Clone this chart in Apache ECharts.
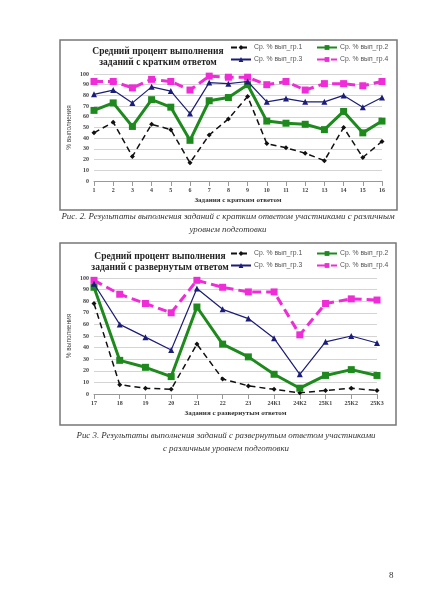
<!DOCTYPE html>
<html><head><meta charset="utf-8">
<script src="https://cdn.jsdelivr.net/npm/echarts@6/dist/echarts.min.js"></script>
<style>html,body{margin:0;padding:0;background:#fff}#c{width:424px;height:600px}</style>
</head><body><div id="c"></div>
<script>
const cats1 = ['1','2','3','4','5','6','7','8','9','10','11','12','13','14','15','16'];
const c1g1 = [45,55,23,53,48,17,43,58,79,35,31,26,19,50,22,37];
const c1g2 = [66,73,51,76,69,38,75,78,90,56,54,53,48,65,45,56];
const c1g3 = [81,85,73,88,84,63,92,91,93,74,77,74,74,80,69,78];
const c1g4 = [93,93,87,95,93,85,98,97,97,90,93,85,91,91,89,93];

const cats2 = ['17','18','19','20','21','22','23','24К1','24К2','25К1','25К2','25К3'];
const c2g1 = [78,8,5,4,43,13,7,4,1,3,5,3];
const c2g2 = [92,29,23,15,75,43,32,17,5,16,21,16];
const c2g3 = [95,60,49,38,91,73,65,48,17,45,50,44];
const c2g4 = [98,86,78,70,98,92,88,88,51,78,82,81];

const names = ['Ср. % вып_гр.1','Ср. % вып_гр.2','Ср. % вып_гр.3','Ср. % вып_гр.4'];

const styles = [
  {color:'#111', width:1.5, type:[6,4], symbol:'diamond', size:5},
  {color:'#1e8a1e', width:3, type:'solid', symbol:'rect', size:7},
  {color:'#1c1c7a', width:1.2, type:'solid', symbol:'triangle', size:6},
  {color:'#f02cd8', width:3, type:[9,5], symbol:'rect', size:7}
];
function mk(i, data, ax){
  const s = styles[i];
  return {name:names[i], type:'line', xAxisIndex:ax, yAxisIndex:ax, data:data,
    symbol:s.symbol, symbolSize:s.size, showSymbol:true,
    itemStyle:{color:s.color, borderWidth:0},
    lineStyle:{color:s.color, width:s.width, type:s.type}, animation:false, z: i===2?4:3};
}
const serif = 'Liberation Serif';
function xAx(g, cats, name){
  return {type:'category', gridIndex:g, data:cats, boundaryGap:false,
    axisLine:{lineStyle:{color:'#999'}}, axisTick:{show:true, lineStyle:{color:'#999'}},
    axisLabel:{fontSize:6, color:'#444', fontFamily:serif, fontWeight:'bold', margin:6},
    name:name, nameLocation:'middle', nameGap:16, nameMoveOverlap:false,
    nameTextStyle:{fontSize:7, fontFamily:serif, fontWeight:'bold', color:'#333'}};
}
function yAx(g){
  return {type:'value', gridIndex:g, min:0, max:100, interval:10,
    axisLine:{show:false}, axisTick:{show:false},
    splitLine:{lineStyle:{color:'#d4d4d4', width:1}},
    axisLabel:{fontSize:6, color:'#444', fontFamily:serif, fontWeight:'bold', margin:5},
    name:'% выполнения', nameLocation:'middle', nameRotate:90, nameGap:21, nameMoveOverlap:false,
    nameTextStyle:{fontSize:6.5, color:'#444', fontFamily:'Liberation Sans'}};
}
function leg(i, left, top){
  return {data:[names[i]], left:left, top:top, itemWidth:20, itemHeight:6, padding:0,
    textStyle:{fontSize:6.8, color:'#555', fontFamily:'Liberation Sans', padding:[0,0,0,-2]}};
}
const chart = echarts.init(document.getElementById('c'), null, {renderer:'canvas'});
chart.setOption({
  animation:false,
  backgroundColor:'#fff',
  title:[
    {text:'Средний процент выполнения\nзаданий с кратким ответом', left:153, top:41, textAlign:'center',
     textStyle:{fontSize:9.5, fontFamily:serif, fontWeight:'bold', color:'#222', lineHeight:11}},
    {text:'Средний процент выполнения\nзаданий с развернутым ответом', left:155, top:246, textAlign:'center',
     textStyle:{fontSize:9.5, fontFamily:serif, fontWeight:'bold', color:'#222', lineHeight:11}}
  ],
  legend:[
    leg(0,230,44), leg(1,316,44), leg(2,230,56), leg(3,316,56),
    leg(0,230,250), leg(1,316,250), leg(2,230,262), leg(3,316,262)
  ],
  grid:[
    {left:94, right:42, top:74, bottom:419},
    {left:94, right:47, top:278, bottom:206}
  ],
  xAxis:[xAx(0,cats1,'Задания с кратким ответом'), xAx(1,cats2,'Задания с развернутым ответом')],
  yAxis:[yAx(0), yAx(1)],
  series:[
    mk(0,c1g1,0), mk(1,c1g2,0), mk(2,c1g3,0), mk(3,c1g4,0),
    mk(0,c2g1,1), mk(1,c2g2,1), mk(2,c2g3,1), mk(3,c2g4,1)
  ],
  graphic:[
    {type:'rect', shape:{x:60,y:40,width:337,height:170}, style:{fill:null, stroke:'#777', lineWidth:1.5}, z:-1},
    {type:'rect', shape:{x:60,y:243,width:336,height:182}, style:{fill:null, stroke:'#777', lineWidth:1.5}, z:-1},
    {type:'text', x:228, y:212, style:{text:'Рис. 2. Результаты выполнения заданий с кратким ответом участниками с различным', font:'italic 8.9px "Liberation Serif"', fill:'#333', textAlign:'center'}},
    {type:'text', x:228, y:225, style:{text:'уровнем подготовки', font:'italic 8.9px "Liberation Serif"', fill:'#333', textAlign:'center'}},
    {type:'text', x:226, y:431, style:{text:'Рис 3. Результаты выполнения заданий с развернутым ответом участниками', font:'italic 8.9px "Liberation Serif"', fill:'#333', textAlign:'center'}},
    {type:'text', x:226, y:444, style:{text:'с различным уровнем подготовки', font:'italic 8.9px "Liberation Serif"', fill:'#333', textAlign:'center'}},
    {type:'text', x:389, y:571, style:{text:'8', font:'9px "Liberation Serif"', fill:'#333'}}
  ]
});
</script></body></html>
